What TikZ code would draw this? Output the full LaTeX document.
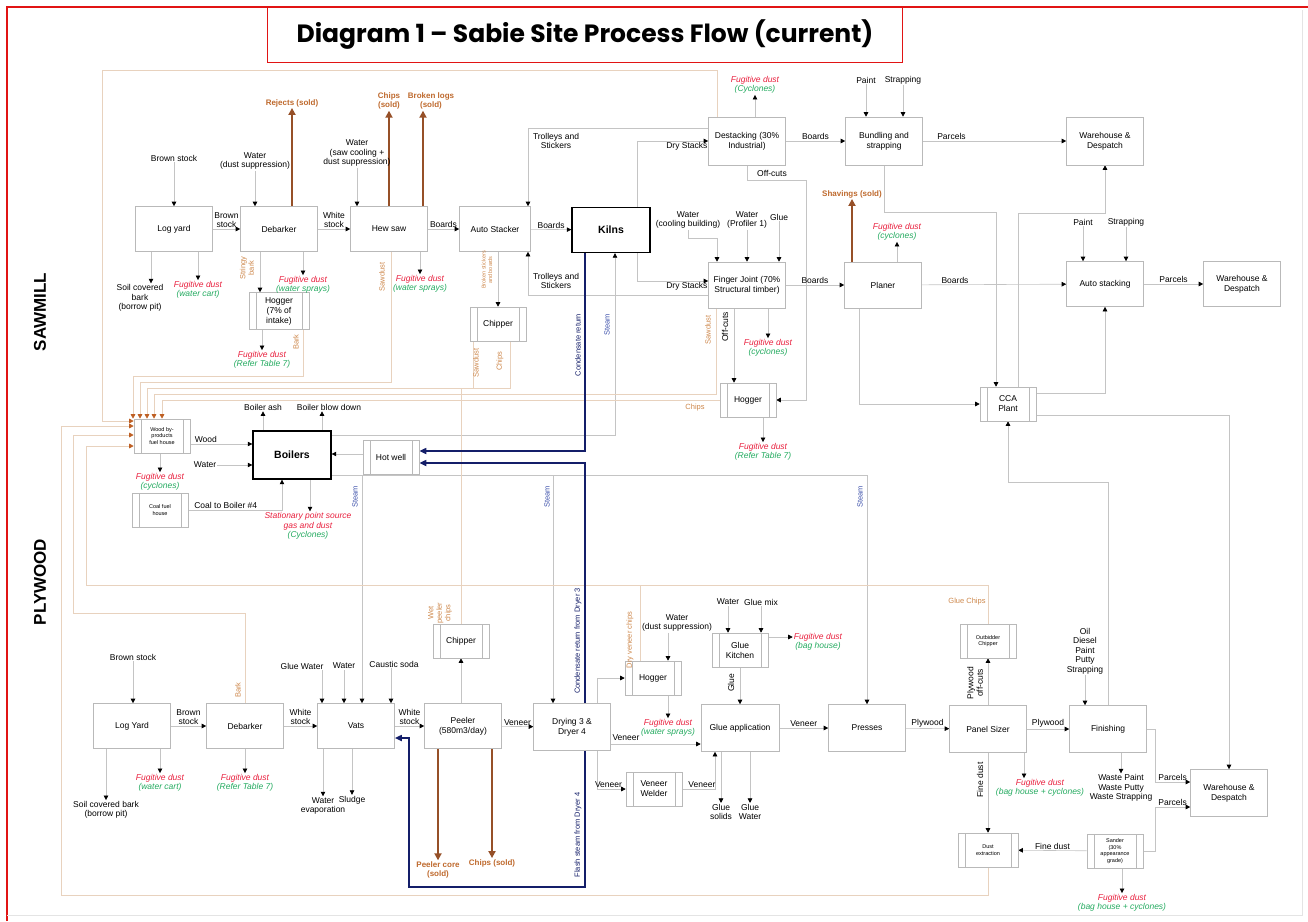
\documentclass[tikz,border=0pt]{standalone}
\usepackage{fontspec}
\setmainfont{Liberation Sans}
\newfontfamily\titlefont{Poppins}
\usepackage{tikz}
\usetikzlibrary{arrows.meta,backgrounds}
\definecolor{pgred}{RGB}{225,20,20}
\definecolor{pggray}{RGB}{228,228,228}
\definecolor{boxln}{RGB}{185,185,185}
\definecolor{flowln}{RGB}{196,196,196}
\definecolor{fuelcol}{RGB}{232,210,190}
\definecolor{fueltip}{RGB}{190,95,35}
\definecolor{soldtxt}{RGB}{190,105,45}
\definecolor{soldln}{RGB}{150,80,40}
\definecolor{ortxt}{RGB}{205,135,75}
\definecolor{fugred}{RGB}{232,30,60}
\definecolor{fuggrn}{RGB}{35,170,95}
\definecolor{condln}{RGB}{20,30,105}
\definecolor{stmblue}{RGB}{60,80,170}
\newcommand{\fdust}[1]{{\color{fugred}\itshape Fugitive dust}\\{\color{fuggrn}\itshape (#1)}}
\tikzset{
  pbox/.style={
    draw=boxln, fill=white, line width=0.6pt, align=center,
    minimum width=77pt, minimum height=45pt, inner sep=2pt,
    font=\fontsize{8.5}{10}\selectfont
  },
  ppbox/.style={
    pbox, minimum width=56pt, minimum height=34pt, inner sep=1pt,
    path picture={\draw[boxln, line width=0.6pt]
      ([xshift=7pt]path picture bounding box.north west) -- ([xshift=7pt]path picture bounding box.south west)
      ([xshift=-7pt]path picture bounding box.north east) -- ([xshift=-7pt]path picture bounding box.south east);}
  },
  smalltxt/.style={font=\fontsize{5.5}{6.5}\selectfont},
  kiln/.style={draw=black, line width=1.4pt, font=\bfseries\fontsize{10.5}{12}\selectfont},
  lbl/.style={align=center, inner sep=1pt, font=\fontsize{8.5}{9.5}\selectfont},
  orl/.style={lbl, text=ortxt, font=\fontsize{7.5}{8.5}\selectfont},
  stm/.style={lbl, text=stmblue, rotate=90, font=\fontsize{7.5}{8.5}\selectfont},
  cnd/.style={lbl, text=condln, rotate=90, font=\fontsize{7.5}{8.5}\selectfont},
  sold/.style={align=center, inner sep=1pt, text=soldtxt, font=\bfseries\fontsize{8}{9.5}\selectfont},
  sect/.style={rotate=90, font=\bfseries\fontsize{17}{20}\selectfont},
  titlebox/.style={draw=pgred, line width=1.5pt, fill=white, minimum width=635pt, minimum height=55pt,
    font=\titlefont\bfseries\fontsize{25}{28}\selectfont},
  arr/.style={draw=flowln, line width=0.6pt, -{Triangle[length=4.5pt,width=4.5pt,color=black]}},
  fuelline/.style={draw=fuelcol, line width=0.7pt},
  fuelin/.style={fuelline, -{Triangle[length=4.5pt,width=4.5pt,color=fueltip]}},
  soldarr/.style={draw=soldln, line width=2.2pt, -{Triangle[length=7pt,width=7pt]}},
  cond/.style={draw=condln, line width=1.6pt, -{Triangle[length=7pt,width=6pt]}}
}
\begin{document}
\begin{tikzpicture}[x=1pt,y=-1pt]
  \useasboundingbox (0,0) rectangle (1308,921);
  \draw[pgred, line width=1.5pt] (7,921) -- (7,7) -- (1308,7);
  \draw[pggray] (1302,10) -- (1302,915) -- (7,915);
  \node[titlebox] (title) at (585,35) {Diagram 1 – Sabie Site Process Flow (current)};
  \node[sect] (sawmill) at (40,312) {SAWMILL};
  \node[sect] (plywood) at (40,582) {PLYWOOD};

  % sawmill boxes
  \node[pbox] (logyard) at (174,229) {Log yard};
  \node[pbox] (debark) at (279,229) {Debarker};
  \node[pbox] (hewsaw) at (389,229) {Hew saw};
  \node[pbox, minimum width=71pt] (autostack) at (495,229) {Auto Stacker};
  \node[pbox, kiln, minimum width=78pt] (kilns) at (611,230) {Kilns};
  \node[pbox, minimum height=48pt] (destack) at (747,141) {Destacking (30\%\\Industrial)};
  \node[pbox, minimum height=48pt] (bundle) at (884,141) {Bundling and\\strapping};
  \node[pbox, minimum height=48pt] (whtop) at (1105,141) {Warehouse \&\\Despatch};
  \node[pbox, minimum height=46pt] (finger) at (747,285) {Finger Joint (70\%\\Structural timber)};
  \node[pbox, minimum height=46pt] (planer) at (883,285) {Planer};
  \node[pbox] (autostk) at (1105,284) {Auto stacking};
  \node[pbox] (whright) at (1242,284) {Warehouse \&\\Despatch};
  \node[ppbox, minimum width=60pt, minimum height=37pt] (hogsaw) at (279,311) {Hogger\\(7\% of\\intake)};
  \node[ppbox] (chipsaw) at (498,324) {Chipper};
  \node[ppbox] (hogmid) at (748,400) {Hogger};
  \node[ppbox] (cca) at (1008,404) {CCA\\Plant};
  \node[ppbox, smalltxt] (fuel) at (162,436) {Wood by-\\products\\fuel house};
  \node[pbox, kiln, minimum width=78pt, minimum height=48pt] (boilers) at (292,455) {Boilers};
  \node[ppbox] (hotwell) at (391,457) {Hot well};
  \node[ppbox, smalltxt] (coal) at (160,510) {Coal fuel\\house};

  % plywood boxes
  \node[pbox] (plogyard) at (132,726) {Log Yard};
  \node[pbox] (pdebark) at (245,726) {Debarker};
  \node[pbox] (vats) at (356,726) {Vats};
  \node[pbox] (peeler) at (463,726) {Peeler\\(580m3/day)};
  \node[pbox, minimum height=47pt] (dryer) at (572,727) {Drying 3 \&\\Dryer 4};
  \node[ppbox] (pchip) at (461,641) {Chipper};
  \node[ppbox] (phog) at (653,678) {Hogger};
  \node[ppbox] (welder) at (654,789) {Veneer\\Welder};
  \node[ppbox] (gluek) at (740,650) {Glue\\Kitchen};
  \node[pbox, minimum width=78pt, minimum height=47pt] (glueapp) at (740,728) {Glue application};
  \node[pbox, minimum height=47pt] (presses) at (867,728) {Presses};
  \node[pbox, minimum height=47pt] (sizer) at (988,729) {Panel Sizer};
  \node[ppbox, smalltxt] (outchip) at (988,641) {Outbidder\\Chipper};
  \node[pbox, minimum height=47pt] (finish) at (1108,729) {Finishing};
  \node[pbox, minimum height=47pt] (whbot) at (1229,793) {Warehouse \&\\Despatch};
  \node[ppbox, smalltxt, minimum width=60pt] (dustx) at (988,850) {Dust\\extraction};
  \node[ppbox, smalltxt] (sander) at (1115,851) {Sander\\(30\%\\appearance\\grade)};

  % sawmill texts
  \node[lbl] (bs1) at (174,158) {Brown stock};
  \node[lbl] (wds1) at (255,161) {Water\\(dust suppression)};
  \node[sold] (rejects) at (292,103) {Rejects (sold)};
  \node[lbl] (wsaw) at (357,153) {Water\\(saw cooling +\\dust suppression)};
  \node[sold] (chipsold) at (389,101) {Chips\\(sold)};
  \node[sold] (logsold) at (431,101) {Broken logs\\(sold)};
  \node[lbl] (soil1) at (140,298) {Soil covered\\bark\\(borrow pit)};
  \node[lbl] (fd1) at (198,290) {\fdust{water cart}};
  \node[lbl] (fd2) at (303,285) {\fdust{water sprays}};
  \node[lbl] (fd3) at (262,360) {\fdust{Refer Table 7}};
  \node[lbl] (fd4) at (420,284) {\fdust{water sprays}};
  \node[orl, rotate=90] (stringy) at (247,268) {Stringy\\bark};
  \node[orl, rotate=90] (barkh) at (296,342) {Bark};
  \node[orl, rotate=90] (sdhew) at (382,277) {Sawdust};
  \node[orl, rotate=90, smalltxt] (broken) at (487,270) {Broken stickers\\and boards};
  \node[orl, rotate=90] (sdchip) at (476,363) {Sawdust};
  \node[orl, rotate=90] (chchip) at (500,361) {Chips};
  \node[lbl] (trol1) at (556,141) {Trolleys and\\Stickers};
  \node[lbl] (trol2) at (556,281) {Trolleys and\\Stickers};
  \node[lbl] (fd5) at (755,85) {\fdust{Cyclones}};
  \node[lbl] (paint1) at (866,80) {Paint};
  \node[lbl] (strap1) at (903,80) {Strapping};
  \node[lbl] (offcut) at (772,173) {Off-cuts};
  \node[lbl] (wcool) at (688,220) {Water\\(cooling building)};
  \node[lbl] (wprof) at (747,220) {Water\\(Profiler 1)};
  \node[lbl] (glue1) at (779,217) {Glue};
  \node[orl, rotate=90] (sdfj) at (708,330) {Sawdust};
  \node[lbl, rotate=90] (offfj) at (725,327) {Off-cuts};
  \node[lbl] (fd6) at (768,348) {\fdust{cyclones}};
  \node[lbl] (fd7) at (763,452) {\fdust{Refer Table 7}};
  \node[orl] (chmid) at (695,408) {Chips};
  \node[sold] (shav) at (852,194) {Shavings (sold)};
  \node[lbl] (fd8) at (897,232) {\fdust{cyclones}};
  \node[lbl] (paint2) at (1083,222) {Paint};
  \node[lbl] (strap2) at (1126,222) {Strapping};
  \node[stm] (stk) at (607,325) {Steam};
  \node[cnd] (crlbl) at (578,345) {Condensate return};

  % boiler texts
  \node[lbl] (ash) at (263,407) {Boiler ash};
  \node[lbl] (blow) at (329,407) {Boiler blow down};
  \node[lbl] (wat2) at (205,465) {Water};
  \node[lbl] (fd9) at (160,482) {\fdust{cyclones}};
  \node[lbl] (stat) at (308,526) {{\color{fugred}\itshape Stationary point source}\\{\color{fugred}\itshape gas and dust}\\{\color{fuggrn}\itshape (Cyclones)}};
  \node[stm] (st1) at (355,497) {Steam};
  \node[stm] (st2) at (547,497) {Steam};
  \node[stm] (st3) at (860,497) {Steam};

  % plywood texts
  \node[lbl] (bs2) at (133,657) {Brown stock};
  \node[lbl] (soil2) at (106,810) {Soil covered bark\\(borrow pit)};
  \node[lbl] (fd10) at (160,783) {\fdust{water cart}};
  \node[lbl] (fd11) at (245,783) {\fdust{Refer Table 7}};
  \node[orl, rotate=90] (barkp) at (238,690) {Bark};
  \node[lbl] (gw) at (302,666) {Glue Water};
  \node[lbl] (wat4) at (344,666) {Water};
  \node[lbl] (caus) at (394,664) {Caustic soda};
  \node[lbl] (wevap) at (323,806) {Water\\evaporation};
  \node[lbl] (sludge) at (352,800) {Sludge};
  \node[orl, rotate=90] (wetchip) at (440,613) {Wet\\peeler\\chips};
  \node[sold] (pcore) at (438,870) {Peeler core\\(sold)};
  \node[sold] (chipsold2) at (492,863) {Chips (sold)};
  \node[cnd] (cdlbl) at (578,641) {Condensate return from Dryer 3};
  \node[cnd] (fslbl) at (578,835) {Flash steam from Dryer 4};
  \node[orl, rotate=90] (dvchip) at (630,640) {Dry veneer chips};
  \node[lbl] (wds2) at (677,623) {Water\\(dust suppression)};
  \node[lbl] (fd12) at (668,728) {\fdust{water sprays}};
  \node[lbl] (vn1) at (626,738) {Veneer};
  \node[lbl] (wat3) at (728,602) {Water};
  \node[lbl] (gmix) at (761,602) {Glue mix};
  \node[lbl] (fd13) at (818,642) {\fdust{bag house}};
  \node[lbl, rotate=90] (gluelbl) at (731,683) {Glue};
  \node[lbl] (gsol) at (721,812) {Glue\\solids};
  \node[lbl] (gwat) at (750,812) {Glue\\Water};
  \node[orl] (gchip) at (967,602) {Glue Chips};
  \node[lbl, rotate=90] (pocut) at (975,683) {Plywood\\off-cuts};
  \node[lbl, rotate=90] (fdlbl) at (980,780) {Fine dust};
  \node[lbl] (fd14) at (1040,788) {\fdust{bag house + cyclones}};
  \node[lbl] (oil) at (1085,651) {Oil\\Diesel\\Paint\\Putty\\Strapping};
  \node[lbl] (waste) at (1121,788) {Waste Paint\\Waste Putty\\Waste Strapping};
  \node[lbl] (fd15) at (1122,903) {\fdust{bag house + cyclones}};

  \begin{scope}[on background layer]
    % sawmill flow
    \draw[arr] (bs1) -- (logyard);
    \draw[arr] (logyard) -- node[lbl, above] {Brown\\stock} (debark);
    \draw[arr] (debark) -- node[lbl, above] {White\\stock} (hewsaw);
    \draw[arr] (hewsaw) -- node[lbl, above] {Boards} (autostack);
    \draw[arr] (autostack) -- node[lbl, above] {Boards} (kilns);
    \draw[arr] (wds1) -- (wds1 |- debark.north);
    \draw[arr] (wsaw) -- (wsaw |- hewsaw.north);
    \draw[soldarr] (rejects |- debark.north) -- (rejects.south);
    \draw[soldarr] (chipsold |- hewsaw.north) -- (chipsold.south);
    \coordinate (bl) at ([xshift=-8pt]logsold.south);
    \draw[soldarr] (bl |- hewsaw.north) -- (bl);
    \coordinate (sl) at ([xshift=11pt]soil1.north);
    \draw[arr] (sl |- logyard.south) -- (sl);
    \draw[arr] (fd1 |- logyard.south) -- (fd1.north);
    \coordinate (sb) at ([xshift=-19pt]debark.south);
    \draw[arr] (sb) -- (sb |- hogsaw.north);
    \draw[arr] (fd2 |- debark.south) -- (fd2.north);
    \draw[arr] (fd3 |- hogsaw.south) -- (fd3.north);
    \draw[arr] (fd4 |- hewsaw.south) -- (fd4.north);
    \draw[arr] (autostack.south -| chipsaw) -- (chipsaw.north);
    \coordinate (tr1) at ([yshift=13pt]destack.west);
    \coordinate (tr2) at ([xshift=33pt]autostack.north);
    \draw[arr] (tr1) -| (tr2);
    \coordinate (tr3) at ([yshift=-10pt]finger.west);
    \coordinate (tr4) at ([xshift=33pt]autostack.south);
    \draw[arr] (tr3) -| (tr4);
    \coordinate (ds1) at ([xshift=26pt]kilns.north);
    \draw[arr] (ds1) |- (destack.west) node[lbl, pos=0.85, below] {Dry Stacks};
    \coordinate (ds2) at ([xshift=26pt]kilns.south);
    \coordinate (ds3) at ([yshift=4pt]finger.west);
    \draw[arr] (ds2) |- (ds3) node[lbl, pos=0.85, below] {Dry Stacks};
    \draw[arr] (destack) -- node[lbl, above] {Boards} (bundle);
    \draw[arr] (bundle) -- node[lbl, above, pos=0.2] {Parcels} (whtop);
    \draw[arr] (paint1) -- (paint1 |- bundle.north);
    \draw[arr] (strap1) -- (strap1 |- bundle.north);
    \draw[arr] (fd5 |- destack.north) -- (fd5.south);
    \coordinate (oc) at (806,180);
    \draw[arr] (destack.south) |- (oc) |- (hogmid.east);
    \coordinate (wc) at (717,238);
    \draw[arr] (wcool) |- (wc) -- (wc |- finger.north);
    \draw[arr] (wprof) -- (wprof |- finger.north);
    \draw[arr] (glue1) -- (glue1 |- finger.north);
    \coordinate (fjs) at ([xshift=-31pt]finger.south);
    \coordinate (fjo) at ([xshift=-13pt]finger.south);
    \draw[arr] (fjo) -- (fjo |- hogmid.north);
    \draw[arr] (fd6 |- finger.south) -- (fd6.north);
    \draw[arr] (fd7 |- hogmid.south) -- (fd7.north);
    \draw[arr] (finger) -- node[lbl, above] {Boards} (planer);
    \draw[arr] (planer) -- node[lbl, above, pos=0.23] {Boards} (autostk);
    \draw[soldarr] (shav |- planer.north) -- (shav.south);
    \draw[arr] (fd8 |- planer.north) -- (fd8.south);
    \coordinate (bc) at (996,212);
    \draw[arr] (bundle.south) |- (bc) -- (bc |- cca.north);
    \coordinate (cw1) at ([xshift=10pt]cca.north);
    \coordinate (cw2) at (1105,213);
    \draw[arr] (cw1) |- (cw2) -- (whtop.south);
    \draw[arr] (paint2) -- (paint2 |- autostk.north);
    \draw[arr] (strap2) -- (strap2 |- autostk.north);
    \draw[arr] (autostk) -- node[lbl, above] {Parcels} (whright);
    \coordinate (ca1) at ([yshift=11pt]cca.east);
    \draw[arr] (ca1) -| (autostk.south);
    \coordinate (ca2) at ([yshift=-11pt]cca.east);
    \draw[arr] (ca2) -| (whbot.north);
    \coordinate (pc) at ([xshift=-24pt]planer.south);
    \draw[arr] (pc) |- (cca.west);
    \coordinate (fc) at (1008,482);
    \draw[arr] (finish.north) |- (fc) -- (cca.south);

    % boilers
    \draw[arr] (ash |- boilers.north) -- (ash.south);
    \coordinate (bd) at ([xshift=-7pt]blow.south);
    \draw[arr] (bd |- boilers.north) -- (bd);
    \coordinate (fw) at ([yshift=-8pt]fuel.east);
    \draw[arr] (fw) -- node[lbl, above, pos=0.25] {Wood} (fw -| boilers.west);
    \draw[arr] (wat2) -- (wat2 -| boilers.west);
    \draw[arr] (fd9 |- fuel.south) -- (fd9.north);
    \coordinate (cb) at ([xshift=-10pt]boilers.south);
    \draw[arr] (coal.east) -| (cb) node[lbl, above, pos=0.2] {Coal to Boiler \#4};
    \coordinate (bs) at ([xshift=18pt]boilers.south);
    \draw[arr] (bs) -- (bs |- stat.north);
    \coordinate (hw) at ([yshift=3pt]hotwell.west);
    \draw[arr] (hw) -- (hw -| boilers.east);

    % steam
    \coordinate (sk1) at ([yshift=20pt]boilers.east);
    \coordinate (sk2) at ([xshift=4pt]kilns.south);
    \draw[arr] (sk1) -| (sk2);
    \coordinate (hdr) at ([yshift=-20pt]boilers.east);
    \draw[arr] (hdr) -| (presses.north);
    \coordinate (vst) at ([xshift=6pt]vats.north);
    \draw[arr] (vst |- hdr) -- (vst);
    \coordinate (dst) at ([xshift=-19pt]dryer.north);
    \draw[arr] (dst |- hdr) -- (dst);

    % fuel house feeds
    \coordinate (t1) at (133,376);
    \coordinate (t2) at (140,382);
    \coordinate (t3) at (147,388);
    \coordinate (t4) at (154,394);
    \coordinate (t5) at (162,400);
    \coordinate (hb) at ([xshift=24pt]hogsaw.south);
    \draw[fuelin] (hb) |- (t1) -- (t1 |- fuel.north);
    \coordinate (hs) at ([xshift=2pt]hewsaw.south);
    \draw[fuelin] (hs) |- (t2) -- (t2 |- fuel.north);
    \coordinate (cs1) at ([xshift=12pt]chipsaw.south);
    \draw[fuelin] (cs1) |- (t3) -- (t3 |- fuel.north);
    \coordinate (cs2) at ([xshift=-25pt]chipsaw.south);
    \draw[fuelline] (cs2) -- (cs2 |- t3);
    \draw[fuelin] (fjs) |- (t4) -- (t4 |- fuel.north);
    \draw[fuelin] (hogmid.west) -- (t5) -- (t5 |- fuel.north);
    \coordinate (tp0) at ([xshift=-30pt]destack.north);
    \coordinate (tp1) at (102,70);
    \coordinate (lf1) at ([yshift=15pt]fuel.west);
    \draw[fuelin] (tp0) |- (tp1) |- (lf1);
    \coordinate (py3) at (61,895);
    \coordinate (lf2) at ([yshift=10pt]fuel.west);
    \draw[fuelin] (dustx.south) |- (py3) |- (lf2);
    \coordinate (py2) at (73,613);
    \coordinate (lf3) at ([yshift=1pt]fuel.west);
    \draw[fuelin] (pdebark.north) |- (py2) |- (lf3);
    \coordinate (py1) at (86,585);
    \coordinate (lf4) at ([yshift=-10pt]fuel.west);
    \draw[fuelin] (outchip.north) |- (py1) |- (lf4);
    \draw[fuelline] (pchip.north) -- (pchip.north |- t3);
    \coordinate (ph) at ([xshift=-13pt]phog.north);
    \draw[fuelline] (ph) -- (ph |- py1);

    % condensate and flash steam
    \coordinate (cr1) at ([xshift=-26pt]kilns.south);
    \coordinate (cr2) at ([yshift=6pt]hotwell.east);
    \draw[cond] (cr1) |- (cr2);
    \coordinate (cr3) at ([xshift=13pt]dryer.north);
    \coordinate (cr4) at ([yshift=-6pt]hotwell.east);
    \draw[cond] (cr3) |- (cr4);
    \coordinate (fs0) at ([xshift=13pt]dryer.south);
    \coordinate (fs1) at (409,887);
    \coordinate (fs2) at ([yshift=-12pt]vats.east);
    \draw[cond] (fs0) |- (fs1) |- (fs2);

    % plywood flow
    \draw[arr] (bs2) -- (bs2 |- plogyard.north);
    \draw[arr] (plogyard) -- node[lbl, above] {Brown\\stock} (pdebark);
    \draw[arr] (pdebark) -- node[lbl, above] {White\\stock} (vats);
    \draw[arr] (vats) -- node[lbl, above] {White\\stock} (peeler);
    \draw[arr] (peeler) -- node[lbl, above] {Veneer} (dryer);
    \draw[arr] (soil2 |- plogyard.south) -- (soil2.north);
    \draw[arr] (fd10 |- plogyard.south) -- (fd10.north);
    \draw[arr] (fd11 |- pdebark.south) -- (fd11.north);
    \coordinate (gw1) at ([xshift=20pt]gw.south);
    \draw[arr] (gw1) -- (gw1 |- vats.north);
    \draw[arr] (wat4) -- (wat4 |- vats.north);
    \coordinate (cs) at ([xshift=-3pt]caus.south);
    \draw[arr] (cs) -- (cs |- vats.north);
    \draw[arr] (wevap |- vats.south) -- (wevap.north);
    \draw[arr] (sludge |- vats.south) -- (sludge.north);
    \draw[arr] (peeler.north -| pchip) -- (pchip.south);
    \draw[soldarr] (pcore |- peeler.south) -- (pcore.north);
    \draw[soldarr] (chipsold2 |- peeler.south) -- (chipsold2.north);
    \coordinate (dh) at ([xshift=25pt]dryer.north);
    \draw[arr] (dh) |- (phog.west);
    \coordinate (dg) at ([yshift=-17pt]dryer.east);
    \draw[arr] (dg) -- (dg -| glueapp.west);
    \coordinate (dw) at ([xshift=25pt]dryer.south);
    \draw[arr] (dw) |- node[lbl, above, pos=0.7] {Veneer} (welder.west);
    \coordinate (wg) at ([xshift=-25pt]glueapp.south);
    \draw[arr] (welder.east) -| node[lbl, above, pos=0.3] {Veneer} (wg);
    \coordinate (hw2) at ([xshift=-9pt]wds2.south);
    \draw[arr] (hw2) -- (hw2 |- phog.north);
    \draw[arr] (fd12 |- phog.south) -- (fd12.north);
    \draw[arr] (wat3) -- (wat3 |- gluek.north);
    \draw[arr] (gmix) -- (gmix |- gluek.north);
    \coordinate (gk) at ([yshift=13pt]gluek.east);
    \draw[arr] (gk) -- (gk -| fd13.west);
    \draw[arr] (gluek) -- (glueapp);
    \draw[arr] (gsol |- glueapp.south) -- (gsol.north);
    \draw[arr] (gwat |- glueapp.south) -- (gwat.north);
    \draw[arr] (glueapp) -- node[lbl, above] {Veneer} (presses);
    \draw[arr] (presses) -- node[lbl, above] {Plywood} (sizer);
    \draw[arr] (sizer) -- node[lbl, above] {Plywood} (finish);
    \draw[arr] (sizer) -- (outchip);
    \draw[arr] (sizer) -- (dustx);
    \coordinate (sz) at ([xshift=36pt]sizer.south);
    \draw[arr] (sz) -- (sz |- fd14.north);
    \draw[arr] (oil) -- (oil |- finish.north);
    \coordinate (fn) at ([xshift=13pt]finish.south);
    \draw[arr] (fn) -- (fn |- waste.north);
    \coordinate (pv) at (1155,782);
    \draw[arr] (finish.east) -| (pv) -- node[lbl, above] {Parcels} (pv -| whbot.west);
    \coordinate (sv) at (1155,807);
    \draw[arr] (sander.east) -| (sv) -- node[lbl, above] {Parcels} (sv -| whbot.west);
    \draw[arr] (sander) -- node[lbl, above] {Fine dust} (dustx);
    \draw[arr] (fd15 |- sander.south) -- (fd15.north);
  \end{scope}
\end{tikzpicture}
\end{document}
